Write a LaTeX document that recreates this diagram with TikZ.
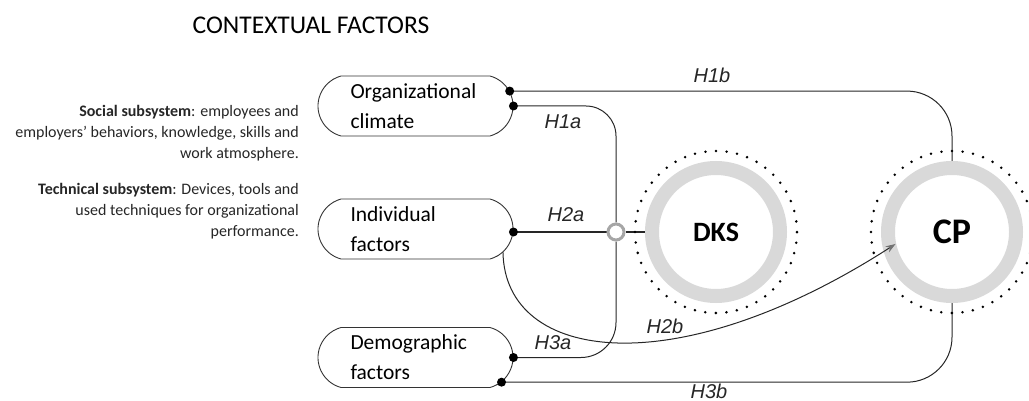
\documentclass[tikz,border=0pt]{standalone}
\usepackage{fontspec}
\setmainfont{Carlito}
\newfontfamily\hypfont{Liberation Sans}
\usetikzlibrary{shapes.misc,arrows.meta}
\pgfdeclarelayer{bg}
\pgfsetlayers{bg,main}

\begin{document}
\begin{tikzpicture}[x=1pt,y=-1pt,
        factor/.style={draw=black!80, line width=0.9pt, rounded rectangle, rounded rectangle arc length=150,
                minimum width=195pt, minimum height=60pt, text width=130pt, align=left, inner sep=0pt,
                font=\fontsize{21.5}{30}\selectfont},
        ring/.style={circle, draw=black!15, line width=14pt, minimum size=128pt, inner sep=0pt},
        dotring/.style={draw=black, line width=2.8pt, line cap=round, dash pattern=on 0pt off 10.6pt},
        junction/.style={circle, draw=black!35, line width=3pt, fill=white, minimum size=16pt, inner sep=0pt},
        link/.style={draw=black!85, line width=1pt},
        hyp/.style={font=\hypfont\itshape\fontsize{20}{24}\selectfont, text=black!85},
        note/.style={align=right, inner sep=0pt, font=\fontsize{16}{21}\selectfont, text=black!85}]
        \useasboundingbox (0,0) rectangle (1029,401);
        \node (title) at (311, 25) {\fontsize{25.5}{30}\selectfont CONTEXTUAL FACTORS};
        \node (social) [note, anchor=north east] at (299, 105) {\textbf{Social subsystem}: employees and\\employers’ behaviors, knowledge, skills and\\work atmosphere.};
        \node (technical) [note, anchor=north east] at (299, 183) {\textbf{Technical subsystem}: Devices, tools and\\used techniques for organizational\\performance.};
        \node (org) [factor] at (415.5, 106) {Organizational\\climate};
        \node (indiv) [factor] at (415.5, 229) {Individual\\factors};
        \node (demo) [factor] at (415.5, 357.5) {Demographic\\factors};
        \node (jn) [junction] at (616, 232) {};
        \node (dks) [ring] at (716, 232) {\fontsize{28}{30}\selectfont\bfseries DKS};
        \node (cp) [ring] at (952, 232) {\fontsize{36}{40}\selectfont\bfseries CP};
        \draw [dotring] (dks.center) circle [radius=81pt];
        \draw [dotring] (cp.center) circle [radius=81pt];
        \node (h1b) [hyp] at (712, 75) {H1b};
        \node (h1a) [hyp] at (563, 122) {H1a};
        \node (h2a) [hyp] at (566, 215) {H2a};
        \node (h3a) [hyp] at (553, 343) {H3a};
        \node (h2b) [hyp] at (665, 326) {H2b};
        \node (h3b) [hyp] at (709, 391) {H3b};
        \begin{pgfonlayer}{bg}
                \draw [link, rounded corners=45pt] (org.9) -| (cp.north);
                \draw [link, rounded corners=30pt] (org.east) -| (jn.north);
                \draw [link] (indiv.east |- jn.west) -- (jn.west);
                \draw [link] (jn.east) -- (dks.west);
                \draw [link, rounded corners=35pt] (demo.east) -| (jn.south);
                \draw [link, rounded corners=45pt] (demo.-16) -| (cp.south);
        \end{pgfonlayer}
        \draw [link, shorten >=-14pt, -{Stealth[length=10pt, width=7pt, color=black!55]}]
                (indiv.-15) .. controls +(2,110) and +(-208,134) .. (cp.196);
        \fill (org.9) circle [radius=4.5pt];
        \fill (org.east) circle [radius=4.5pt];
        \fill (indiv.east |- jn.west) circle [radius=4.5pt];
        \fill (demo.east) circle [radius=4.5pt];
        \fill (demo.-16) circle [radius=4.5pt];
\end{tikzpicture}
\end{document}
